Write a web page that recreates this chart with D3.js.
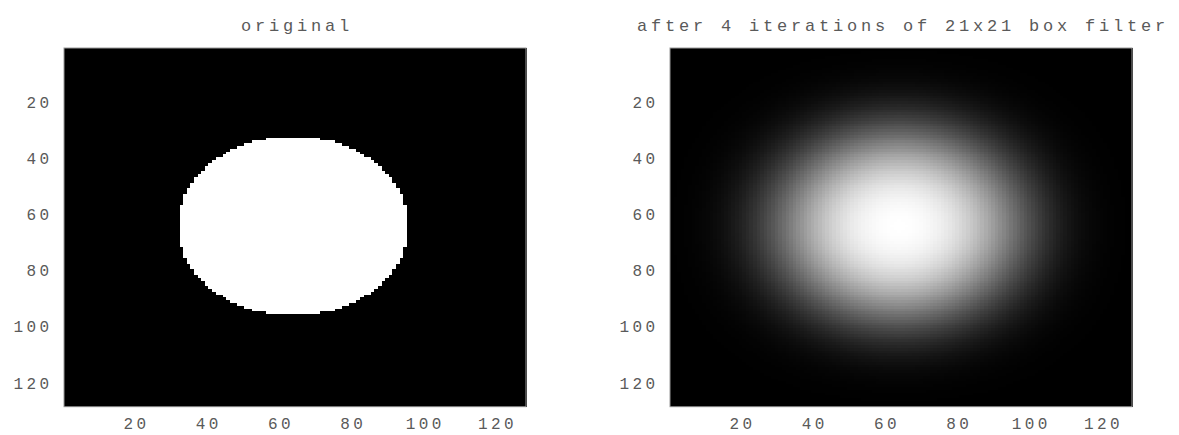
<!DOCTYPE html>
<html>
<head>
<meta charset="utf-8">
<script src="https://cdn.jsdelivr.net/npm/d3@7"></script>
<style>
  body { margin: 0; background: #fff; }
  text { font-family: "Liberation Mono", "DejaVu Sans Mono", monospace; fill: #5a5a5a; }
</style>
</head>
<body>
<svg id="chart" width="1179" height="435"></svg>
<script>
// image data: 128x128 binary disk, then box filtered
var imgSize = 128;
var diskCenter = [64, 64];   // column, row
var diskRadius = 32;
var boxSize = 21;
var nIter = 4;
var tickVals = [20, 40, 60, 80, 100, 120];
var titles = ["original", "after 4 iterations of 21x21 box filter"];

// build the original image (row major, 1-based coords)
var original = [];
for (var r = 1; r <= imgSize; r++) {
  for (var c = 1; c <= imgSize; c++) {
    var dx = c - diskCenter[0], dy = r - diskCenter[1];
    original.push(dx * dx + dy * dy < diskRadius * diskRadius ? 1 : 0);
  }
}

// one pass of the box filter, zero padded, same size
function boxFilter(img) {
  var h = (boxSize - 1) / 2, tmp = new Array(img.length).fill(0), out = new Array(img.length).fill(0);
  for (var r = 0; r < imgSize; r++)
    for (var c = 0; c < imgSize; c++) {
      var s = 0;
      for (var k = Math.max(0, c - h); k <= Math.min(imgSize - 1, c + h); k++) s += img[r * imgSize + k];
      tmp[r * imgSize + c] = s;
    }
  for (var r = 0; r < imgSize; r++)
    for (var c = 0; c < imgSize; c++) {
      var s = 0;
      for (var k = Math.max(0, r - h); k <= Math.min(imgSize - 1, r + h); k++) s += tmp[k * imgSize + c];
      out[r * imgSize + c] = s / (boxSize * boxSize);
    }
  return out;
}
var blurred = original;
for (var i = 0; i < nIter; i++) blurred = boxFilter(blurred);

var panels = [
  {left: 64, data: original, title: titles[0]},
  {left: 670, data: blurred, title: titles[1]}
];
var plotTop = 48, pw = 462, ph = 358.7;

var svg = d3.select("#chart");

panels.forEach(function(p) {
  var g = svg.append("g").attr("transform", "translate(" + p.left + "," + plotTop + ")");

  var x = d3.scaleLinear().domain([0.5, imgSize + 0.5]).range([0, pw]);
  var y = d3.scaleLinear().domain([0.5, imgSize + 0.5]).range([0, ph]);
  var color = d3.scaleLinear().domain(d3.extent(p.data)).range(["#000", "#fff"]);

  var cells = p.data.map(function(v, i) {
    return {row: Math.floor(i / imgSize) + 1, col: i % imgSize + 1, v: v};
  });

  g.selectAll("rect.cell")
    .data(cells)
    .enter().append("rect")
      .attr("class", "cell")
      .attr("x", function(d) { return x(d.col - 0.5); })
      .attr("y", function(d) { return y(d.row - 0.5); })
      .attr("width", x(1.5) - x(0.5) + 0.5)
      .attr("height", y(1.5) - y(0.5) + 0.5)
      .attr("fill", function(d) { return color(d.v); })
      .attr("shape-rendering", "crispEdges");

  // box round the image
  g.append("rect")
    .attr("width", pw).attr("height", ph)
    .attr("fill", "none").attr("stroke", "#999").attr("stroke-width", 1);

  var xAxis = g.append("g")
    .attr("transform", "translate(0," + ph + ")")
    .call(d3.axisBottom(x).tickValues(tickVals).tickSize(0).tickPadding(11));
  xAxis.selectAll("text").attr("dx", "1.7px");

  var yAxis = g.append("g")
    .call(d3.axisLeft(y).tickValues(tickVals).tickSize(0).tickPadding(11.5));

  svg.selectAll(".domain").remove();
  svg.selectAll(".tick text")
    .style("font-size", "16px")
    .style("letter-spacing", "3.4px")
    .attr("fill", "#5a5a5a");

  svg.append("text")
    .attr("x", p.left + pw / 2 + 2)
    .attr("y", 31)
    .attr("text-anchor", "middle")
    .style("font-size", "17px")
    .style("letter-spacing", "3.8px")
    .text(p.title);
});
</script>
</body>
</html>
